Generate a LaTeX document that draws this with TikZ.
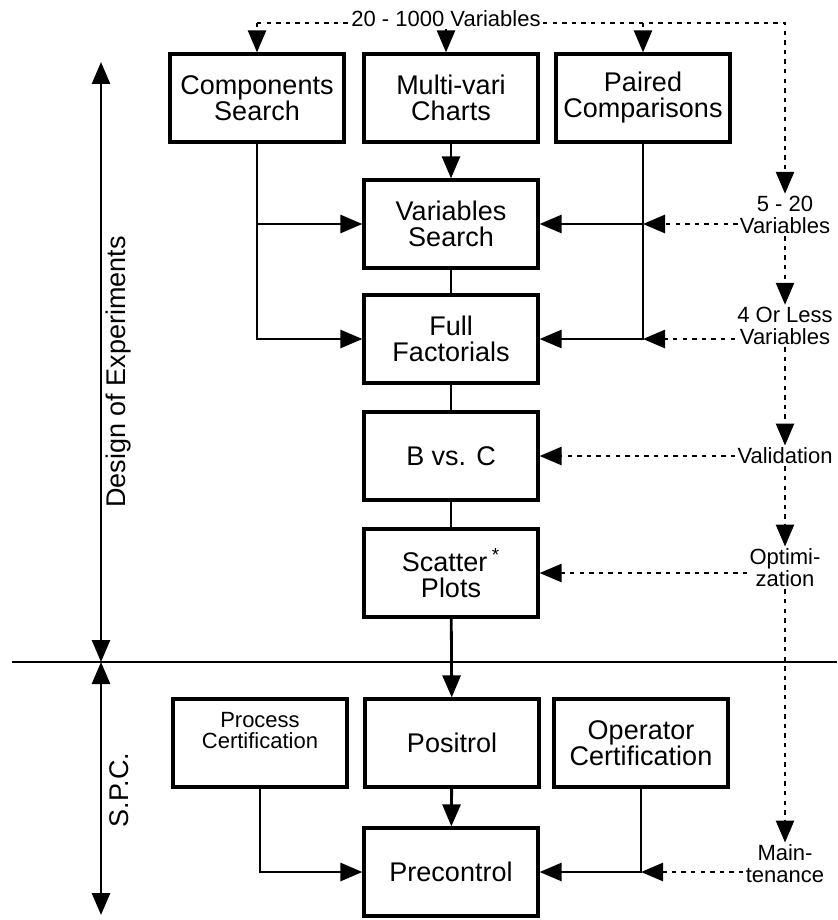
\documentclass[tikz,border=0pt]{standalone}
\usepackage{fontspec}
\setmainfont{Liberation Sans}
\usetikzlibrary{arrows.meta,calc}

\begin{document}
\begin{tikzpicture}[x=0.5pt,y=-0.5pt,
    box/.style={draw, line width=1.6pt, minimum width=87pt, minimum height=44pt, align=center, inner sep=2pt, font=\fontsize{13.5}{13}\selectfont},
    lbl/.style={align=center, inner sep=1pt, font=\fontsize{11}{11}\selectfont},
    conn/.style={line width=1.4pt},
    flow/.style={conn, -{Triangle[length=11pt,width=9pt]}},
    dots/.style={line width=1.3pt, dash pattern=on 2.2pt off 2.6pt},
    dflow/.style={dots, -{Triangle[length=11pt,width=9pt]}}]
    \useasboundingbox (0,0) rectangle (837,920);
    % boxes
    \node[box] (comp) at (257,98) {Components\\Search};
    \node[box] (multi) at (451,98) {Multi-vari\\Charts};
    \node[box] (paired) at (643,98) {Paired\\Comparisons};
    \node[box] (vars) at (451,224) {Variables\\Search};
    \node[box] (full) at (451,339) {Full\\Factorials};
    \node[box] (bvc) at (451,456) {B vs. C};
    \node[box] (scatter) at (451,573) {Scatter\,\textsuperscript{*}\\Plots};
    \node[box, font=\fontsize{11}{10.5}\selectfont] (process) at (260,743) {Process\\Certification\\[2pt]};
    \node[box] (positrol) at (452,743) {Positrol};
    \node[box] (operator) at (641,743) {Operator\\Certification};
    \node[box] (precontrol) at (451,872) {Precontrol};
    % labels on the dotted path
    \node[lbl] (title) at (446,19) {20 - 1000 Variables};
    \node[lbl] (l20) at (785,215) {5 - 20\\Variables};
    \node[lbl] (l4) at (785,326) {4 Or Less\\Variables};
    \node[lbl] (lval) at (785,456) {Validation};
    \node[lbl] (lopt) at (785,568) {Optimi-\\zation};
    \node[lbl] (lmain) at (785,864) {Main-\\tenance};
    \coordinate (tl) at (257,23);
    \coordinate (tr) at (785,23);
    % solid flow
    \draw[flow] (multi) -- (vars);
    \draw[flow] (comp.south) |- (full.west);
    \draw[flow] (comp.south |- vars) -- (vars.west);
    \draw[flow] (paired.south) |- (full.east);
    \draw[flow] (paired.south |- vars) -- (vars.east);
    \draw[conn] (vars) -- (full);
    \draw[conn] (full) -- (bvc);
    \draw[conn] (bvc) -- (scatter);
    \draw[flow] (scatter) -- (positrol);
    \draw[flow] (positrol) -- (precontrol);
    \draw[flow] (process.south) |- (precontrol.west);
    \draw[flow] (operator.south) |- (precontrol.east);
    % dotted feed
    \draw[dots] (tl) -- (title.west |- tl);
    \draw[dflow] (title.east |- tl) -- (tr) -- (l20.north);
    \draw[dflow] (tl) -- (comp.north);
    \draw[dflow] (title.south) -- (title.south |- multi.north);
    \draw[dflow] (tl -| paired) -- (paired.north);
    \draw[dflow] (l20.south) -- (l4.north);
    \draw[dflow] (l4.south) -- (lval.north);
    \draw[dflow] (lval.south) -- (lopt.north);
    \draw[dflow] (lopt.south) -- (lmain.north);
    \draw[dflow] (l20.west |- vars) -- (paired.south |- vars);
    \draw[dflow] (l4.west |- full) -- (paired.south |- full);
    \draw[dflow] (lval.west) -- (bvc.east);
    \draw[dflow] (lopt.west |- scatter) -- (scatter.east);
    \draw[dflow] (lmain.west |- precontrol) -- (operator.south |- precontrol);
    % phases
    \coordinate (axtop) at (101,62);
    \coordinate (axmid) at (101,662);
    \coordinate (axbot) at (101,915);
    \draw[line width=1.4pt] (12,662) -- (837,662);
    \draw[conn, {Triangle[length=11pt,width=9pt]}-{Triangle[length=11pt,width=9pt]}] (axtop) -- (axmid);
    \draw[conn, {Triangle[length=11pt,width=9pt]}-{Triangle[length=11pt,width=9pt]}] (axmid) -- (axbot);
    \node[rotate=90, font=\fontsize{13.5}{13}\selectfont] (doe) at (119,372) {Design of Experiments};
    \node[rotate=90, font=\fontsize{13.5}{13}\selectfont] (spc) at (119,790) {S.P.C.};
\end{tikzpicture}
\end{document}
